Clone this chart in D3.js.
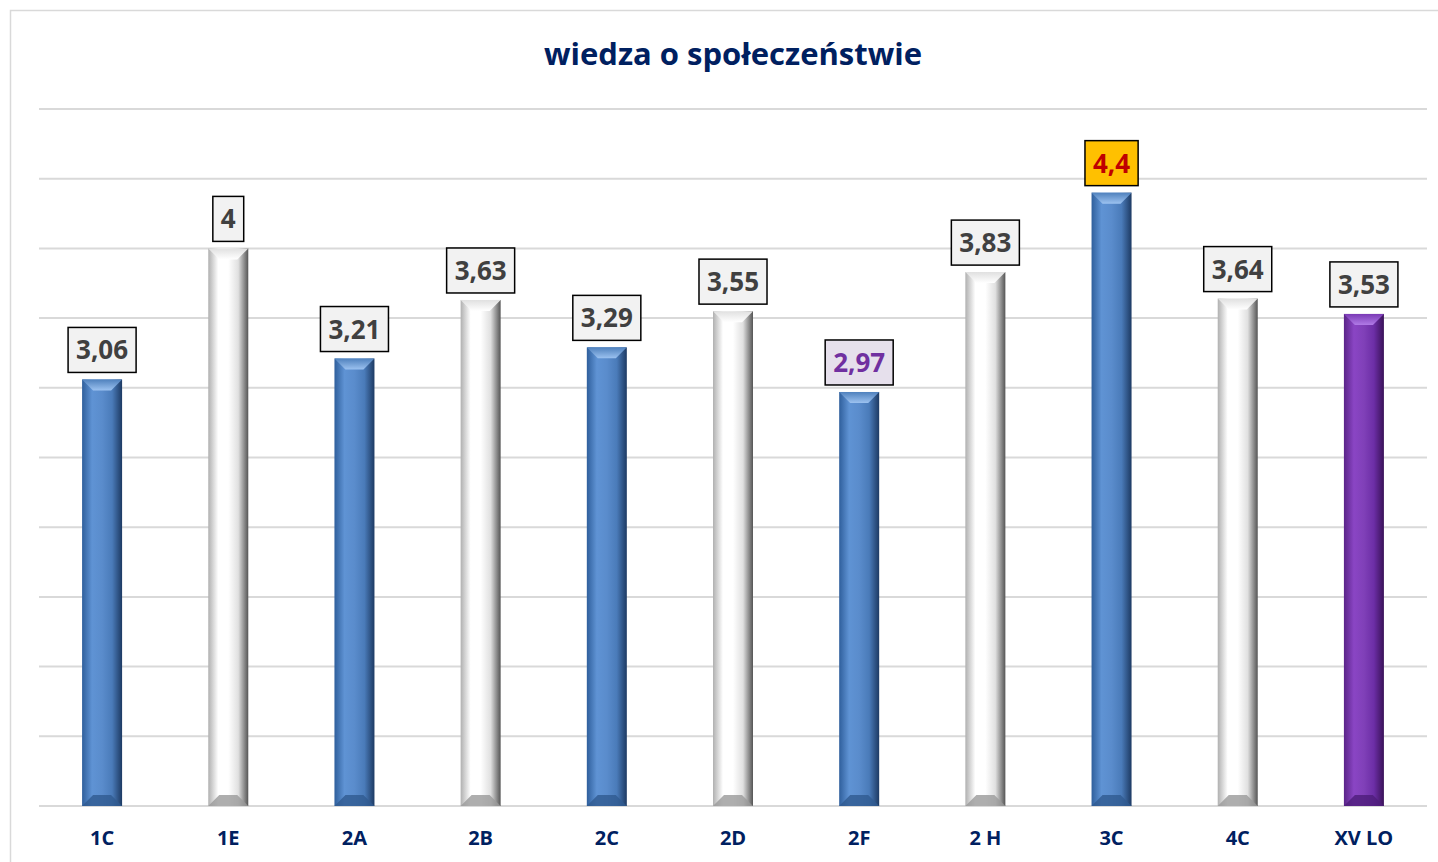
<!DOCTYPE html>
<html>
  <head>
    <meta charset="utf-8">
    <title>wiedza o społeczeństwie</title>
    <script src="https://cdn.jsdelivr.net/npm/d3@7"></script>
    <style>
      body { margin: 0; background: #fff; }
      text { font-family: "Open Sans", "Noto Sans", sans-serif; font-weight: bold; }
    </style>
  </head>
  <body>
    <svg width="1438" height="862" id="mainsvg"></svg>
    <script>

    // data
    const classes = ['1C', '1E', '2A', '2B', '2C', '2D', '2F', '2 H', '3C', '4C', 'XV LO'];
    const grades = [3.06, 4, 3.21, 3.63, 3.29, 3.55, 2.97, 3.83, 4.4, 3.64, 3.53];
    const gradeLabels = ['3,06', '4', '3,21', '3,63', '3,29', '3,55', '2,97', '3,83', '4,4', '3,64', '3,53'];
    // style of each bar: blue, white, purple
    const barKind = ['blue', 'white', 'blue', 'white', 'blue', 'white', 'blue', 'white', 'blue', 'white', 'purple'];
    const yTicks = d3.range(0, 5.01, 0.5);

    let svg = d3.select('svg');
    const width = +svg.attr('width');
    const height = +svg.attr('height');

    // chart frame (only left and top edges show)
    svg.append('rect')
      .attr('x', 10.5).attr('y', 10.5)
      .attr('width', width + 20).attr('height', height + 20)
      .attr('fill', 'none').attr('stroke', '#d9d9d9').attr('stroke-width', 1.5);

    const x = d3.scaleBand()
      .domain(classes)
      .range([39, 1427])
      .paddingInner(0.683)
      .paddingOuter(0.3415);
    const y = d3.scaleLinear().domain([0, 5]).range([806, 109]);

    // gradients for the bevelled bars
    const defs = svg.append('defs');
    const palettes = {
      blue:   { side: ['#2f5f9c', '#5f93d4', '#5a8ccc', '#4a7bb9', '#1d3a63'], top: ['#9cc2f0', '#4f81bd'], bottom: '#2f5a90' },
      white:  { side: ['#b0b0b0', '#ffffff', '#ffffff', '#e0e0e0', '#555555'], top: ['#ffffff', '#e0e0e0'], bottom: '#9a9a9a' },
      purple: { side: ['#5a2488', '#8a45c4', '#8040b8', '#6c2ea6', '#3a1258'], top: ['#b07ae6', '#7a3ab5'], bottom: '#4e1d7a' }
    };
    Object.entries(palettes).forEach(([k, p]) => {
      const g = defs.append('linearGradient').attr('id', 'side-' + k)
        .attr('x1', 0).attr('x2', 1).attr('y1', 0).attr('y2', 0);
      const offs = [0, 0.25, 0.5, 0.75, 1];
      p.side.forEach((c, i) => g.append('stop').attr('offset', offs[i]).attr('stop-color', c));
      const t = defs.append('linearGradient').attr('id', 'top-' + k)
        .attr('x1', 0).attr('x2', 0).attr('y1', 0).attr('y2', 1);
      t.append('stop').attr('offset', 0).attr('stop-color', p.top[1]);
      t.append('stop').attr('offset', 1).attr('stop-color', p.top[0]);
    });

    // gridlines
    svg.append('g').selectAll('line')
      .data(yTicks)
      .enter().append('line')
      .attr('x1', 39).attr('x2', 1427)
      .attr('y1', d => y(d)).attr('y2', d => y(d))
      .attr('stroke', '#d9d9d9').attr('stroke-width', 2);

    // title
    svg.append('text')
      .attr('x', 733).attr('y', 65)
      .attr('text-anchor', 'middle')
      .attr('font-size', 31)
      .attr('fill', '#002060')
      .text('wiedza o społeczeństwie');

    // bars
    const bev = 11;
    const bars = svg.append('g').selectAll('g')
      .data(classes.map((c, i) => ({ c, v: grades[i], k: barKind[i], lab: gradeLabels[i], i })))
      .enter().append('g');

    bars.append('rect')
      .attr('x', d => x(d.c))
      .attr('y', d => y(d.v))
      .attr('width', x.bandwidth())
      .attr('height', d => y(0) - y(d.v))
      .attr('fill', d => 'url(#side-' + d.k + ')');

    bars.append('polygon')
      .attr('points', d => {
        const x0 = x(d.c), x1 = x0 + x.bandwidth(), t = y(d.v);
        return [[x0, t], [x1, t], [x1 - bev, t + bev], [x0 + bev, t + bev]].join(' ');
      })
      .attr('fill', d => 'url(#top-' + d.k + ')');

    bars.append('polygon')
      .attr('points', d => {
        const x0 = x(d.c), x1 = x0 + x.bandwidth(), b = y(0);
        return [[x0, b], [x1, b], [x1 - bev, b - bev], [x0 + bev, b - bev]].join(' ');
      })
      .attr('fill', d => palettes[d.k].bottom)
      .attr('opacity', 0.8);

    // value labels in boxes
    const boxFill = d => d.lab === '4,4' ? '#ffc000' : d.lab === '2,97' ? '#e6e0ec' : '#f2f2f2';
    const textFill = d => d.lab === '4,4' ? '#c00000' : d.lab === '2,97' ? '#7030a0' : '#404040';

    const labels = bars.append('g');
    labels.append('rect').attr('class', 'box');
    labels.append('text')
      .attr('x', d => x(d.c) + x.bandwidth() / 2)
      .attr('y', d => y(d.v) - 7 - 13)
      .attr('text-anchor', 'middle')
      .attr('font-size', 26)
      .attr('fill', textFill)
      .text(d => d.lab);
    labels.each(function (d) {
      const g = d3.select(this);
      const w = g.select('text').node().getComputedTextLength() + 16;
      g.select('rect')
        .attr('x', x(d.c) + x.bandwidth() / 2 - w / 2)
        .attr('y', y(d.v) - 7 - 45)
        .attr('width', w).attr('height', 45)
        .attr('fill', boxFill(d))
        .attr('stroke', '#000').attr('stroke-width', 1.5);
    });

    // x axis labels
    svg.append('g').selectAll('text')
      .data(classes)
      .enter().append('text')
      .attr('x', d => x(d) + x.bandwidth() / 2)
      .attr('y', 845)
      .attr('text-anchor', 'middle')
      .attr('font-size', 20)
      .attr('fill', '#002060')
      .text(d => d);

  </script>
  </body>
</html>
